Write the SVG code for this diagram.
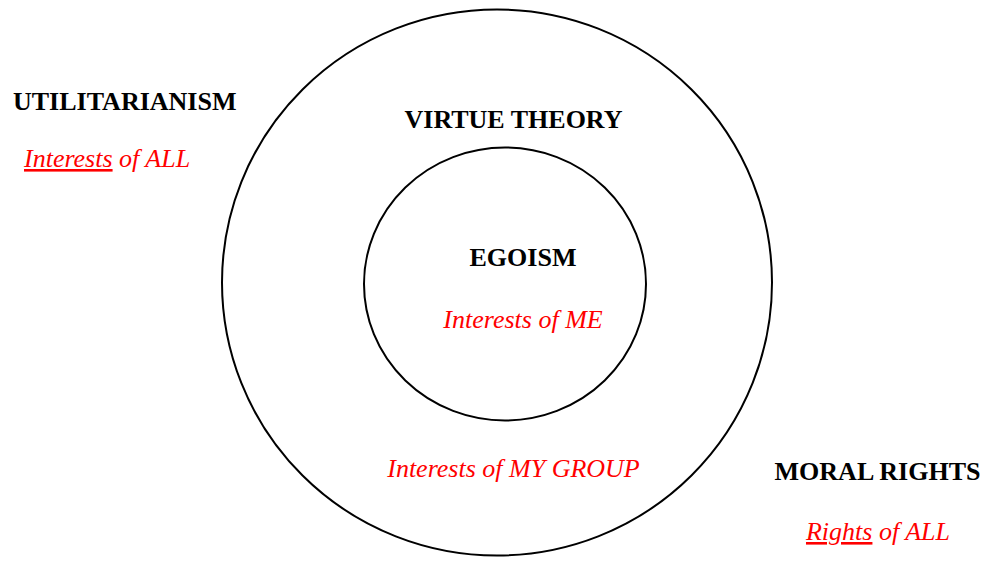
<svg xmlns="http://www.w3.org/2000/svg" width="985" height="561" viewBox="0 0 985 561">
<style>
.ring{fill:none;stroke:#000;stroke-width:2}
.h{font-family:"Liberation Serif",serif;font-weight:bold;font-size:26px;fill:#000}
.s{font-family:"Liberation Serif",serif;font-style:italic;font-size:26px;fill:#ff0000}
.u{text-decoration:underline}
</style>
<rect width="985" height="561" fill="#fff"/>
<g id="outer">
<ellipse class="ring" cx="497" cy="282.5" rx="275" ry="273"/>
<text class="h" x="513.5" y="128" text-anchor="middle">VIRTUE THEORY</text>
<text class="s" x="513.5" y="477" text-anchor="middle">Interests of MY GROUP</text>
</g>
<g id="inner">
<ellipse class="ring" cx="505" cy="284" rx="141" ry="136.5"/>
<text class="h" x="523" y="266" text-anchor="middle">EGOISM</text>
<text class="s" x="523" y="328" text-anchor="middle">Interests of ME</text>
</g>
<g id="utilitarianism">
<text class="h" x="13" y="110">UTILITARIANISM</text>
<text class="s" x="24" y="167"><tspan class="u">Interests</tspan> of ALL</text>
</g>
<g id="moral-rights">
<text class="h" x="877.5" y="480" text-anchor="middle">MORAL RIGHTS</text>
<text class="s" x="878" y="540" text-anchor="middle"><tspan class="u">Rights</tspan> of ALL</text>
</g>
<g id="connectors"/>
</svg>
